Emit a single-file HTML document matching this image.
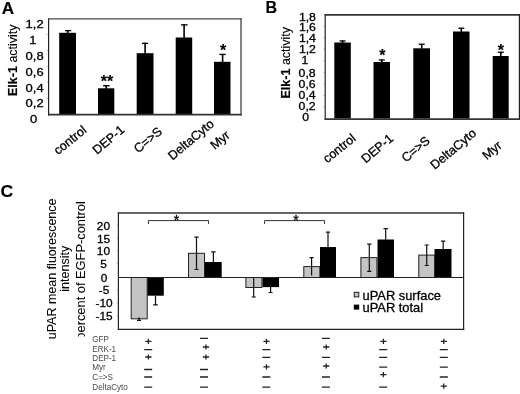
<!DOCTYPE html>
<html><head><meta charset="utf-8">
<style>
html,body{margin:0;padding:0;background:#fff;}
body{width:520px;height:394px;overflow:hidden;position:relative;}
svg{position:absolute;left:0;top:0;display:block;will-change:transform;}
text{font-family:"Liberation Sans",sans-serif;fill:#000;stroke:#000;stroke-width:0.3px;}
.b{stroke-width:0.15px;}
.b{font-weight:bold;}
</style></head><body>
<svg width="520" height="394" viewBox="0 0 520 394">
<defs>
<clipPath id="clp"><rect x="0" y="180" width="120" height="156.4"/></clipPath>
</defs>
<!-- ================= PANEL A ================= -->
<text id="t1" class="b" transform="translate(1.7,13.8) scale(1.07,1)" font-size="16">A</text>
<!-- y title -->
<g transform="translate(17,60.2) rotate(-90)">
<text id="t2" text-anchor="middle" font-size="12.5" style="stroke-width:0.1px"><tspan class="b">Elk-1</tspan> activity</text>
</g>
<!-- y labels -->
<g font-size="11" text-anchor="middle">
<text id="t3" transform="translate(34.6,28.2) scale(1.18,1)">1,2</text>
<text id="t4" transform="translate(32.9,43.7) scale(1.18,1)">1</text>
<text id="t5" transform="translate(34.6,59.8) scale(1.18,1)">0,8</text>
<text id="t6" transform="translate(34.6,76.3) scale(1.18,1)">0,6</text>
<text id="t7" transform="translate(34.6,91.8) scale(1.18,1)">0,4</text>
<text id="t8" transform="translate(34.6,107.2) scale(1.18,1)">0,2</text>
<text id="t9" transform="translate(33.6,123.3) scale(1.18,1)">0</text>
</g>
<!-- ticks -->
<g stroke="#bbb" stroke-width="0.8">
<line x1="46.3" y1="34.6" x2="48.5" y2="34.6"/>
<line x1="46.3" y1="50.6" x2="48.5" y2="50.6"/>
<line x1="46.3" y1="66.6" x2="48.5" y2="66.6"/>
<line x1="46.3" y1="82.6" x2="48.5" y2="82.6"/>
<line x1="46.3" y1="98.6" x2="48.5" y2="98.6"/>
</g>
<!-- bars -->
<g fill="#000">
<rect x="59.2" y="32.8" width="16.8" height="81.8"/>
<rect x="98" y="88.3" width="16.3" height="26.3"/>
<rect x="136.7" y="53.2" width="16.8" height="61.4"/>
<rect x="175.7" y="37.5" width="16.5" height="77.1"/>
<rect x="214" y="61.8" width="16.5" height="52.8"/>
<!-- error bars -->
<rect x="66.9" y="30" width="1.6" height="3"/><rect x="65" y="30" width="6.2" height="1.3"/>
<rect x="105.4" y="85" width="1.6" height="4"/><rect x="103.1" y="85" width="6.4" height="1.4"/>
<rect x="144.3" y="42.7" width="1.6" height="11"/><rect x="142" y="42.7" width="6.2" height="1.3"/>
<rect x="183.3" y="24.2" width="1.6" height="14"/><rect x="181" y="24.2" width="6.6" height="1.3"/>
<rect x="221.8" y="53.8" width="1.6" height="8.5"/><rect x="219.4" y="53.8" width="6.3" height="1.3"/>
</g>
<!-- frame -->
<g stroke="#222" fill="none">
<line x1="48.6" y1="18.3" x2="48.6" y2="115.5" stroke-width="1.2"/>
<line x1="48" y1="18.9" x2="241.6" y2="18.9" stroke-width="1.3" stroke="#444"/>
<line x1="241" y1="18.3" x2="241" y2="115.5" stroke-width="1.3" stroke="#444"/>
<line x1="48" y1="114.7" x2="241.6" y2="114.7" stroke-width="1.8" stroke="#333"/>
</g>
<!-- stars -->
<text id="t10" class="b" x="106.9" y="86.6" font-size="16" text-anchor="middle">**</text>
<text id="t11" class="b" x="223.2" y="56.2" font-size="16" text-anchor="middle">*</text>
<!-- x labels -->
<g font-size="12.6" text-anchor="middle">
<text id="t12" transform="translate(70,140.2) rotate(-39)" y="4.2">control</text>
<text id="t13" transform="translate(108.5,139.8) rotate(-40)" y="4.2">DEP-1</text>
<text id="t14" transform="translate(148,140) rotate(-40)" y="4.2">C=&gt;S</text>
<text id="t15" transform="translate(191,139.7) rotate(-40)" y="4.2">DeltaCyto</text>
<text id="t16" transform="translate(220,140) rotate(-40)" y="4.2">Myr</text>
</g>

<!-- ================= PANEL B ================= -->
<text id="t17" class="b" x="265.5" y="13.4" font-size="16">B</text>
<g transform="translate(290,62.7) rotate(-90)">
<text id="t18" text-anchor="middle" font-size="12.5" style="stroke-width:0.1px"><tspan class="b">Elk-1</tspan> activity</text>
</g>
<g font-size="10.5" text-anchor="middle">
<text id="t19" transform="translate(307.4,20.6) scale(1.17,1)">1,8</text>
<text id="t20" transform="translate(307.4,31) scale(1.17,1)">1,6</text>
<text id="t21" transform="translate(307.4,41.9) scale(1.17,1)">1,4</text>
<text id="t22" transform="translate(307.4,53) scale(1.17,1)">1,2</text>
<text id="t23" transform="translate(304.8,64) scale(1.17,1)">1</text>
<text id="t24" transform="translate(307.1,77.3) scale(1.17,1)">0,8</text>
<text id="t25" transform="translate(307.1,88) scale(1.17,1)">0,6</text>
<text id="t26" transform="translate(307.1,98.8) scale(1.17,1)">0,4</text>
<text id="t27" transform="translate(307.1,109.5) scale(1.17,1)">0,2</text>
<text id="t28" transform="translate(305.6,121) scale(1.17,1)">0</text>
</g>
<g stroke="#bbb" stroke-width="0.8">
<line x1="323" y1="26.1" x2="325" y2="26.1"/>
<line x1="323" y1="37.6" x2="325" y2="37.6"/>
<line x1="323" y1="49.2" x2="325" y2="49.2"/>
<line x1="323" y1="60.7" x2="325" y2="60.7"/>
<line x1="323" y1="72.3" x2="325" y2="72.3"/>
<line x1="323" y1="83.8" x2="325" y2="83.8"/>
<line x1="323" y1="95.4" x2="325" y2="95.4"/>
<line x1="323" y1="106.9" x2="325" y2="106.9"/>
</g>
<g fill="#000">
<rect x="334.3" y="42.5" width="16.5" height="76"/>
<rect x="373.5" y="62" width="16.5" height="56.5"/>
<rect x="413.3" y="48.3" width="16.7" height="70.2"/>
<rect x="453" y="31.5" width="16.5" height="87"/>
<rect x="492.7" y="56" width="16" height="62.5"/>
<rect x="341.8" y="40.5" width="1.6" height="2.5"/><rect x="339.6" y="40.3" width="6" height="1.3"/>
<rect x="381" y="59.5" width="1.6" height="3"/><rect x="378.8" y="59.3" width="6" height="1.3"/>
<rect x="420.9" y="43.8" width="1.6" height="5"/><rect x="418.7" y="43.6" width="6" height="1.3"/>
<rect x="460.5" y="27.8" width="1.6" height="4"/><rect x="458.3" y="27.6" width="6" height="1.3"/>
<rect x="500" y="51.8" width="1.6" height="4.5"/><rect x="497.8" y="51.6" width="6" height="1.3"/>
</g>
<g stroke="#222" fill="none">
<line x1="325.2" y1="14" x2="325.2" y2="119.5" stroke-width="1.2"/>
<line x1="324.6" y1="14.85" x2="520" y2="14.85" stroke-width="1.8" stroke="#333"/>
<line x1="519.5" y1="14" x2="519.5" y2="120" stroke-width="1.4"/>
<line x1="324.6" y1="119.1" x2="520" y2="119.1" stroke-width="1.6" stroke="#333"/>
</g>
<text id="t29" class="b" x="382.3" y="61.3" font-size="16" text-anchor="middle">*</text>
<text id="t30" class="b" x="500.8" y="55.8" font-size="16" text-anchor="middle">*</text>
<g font-size="12.6" text-anchor="middle">
<text id="t31" transform="translate(339.3,148.4) rotate(-39)" y="4.2">control</text>
<text id="t32" transform="translate(377.2,148.5) rotate(-40)" y="4.2">DEP-1</text>
<text id="t33" transform="translate(415.7,149.2) rotate(-40)" y="4.2">C=&gt;S</text>
<text id="t34" transform="translate(453.2,149.1) rotate(-40)" y="4.2">DeltaCyto</text>
<text id="t35" transform="translate(492,150.4) rotate(-40)" y="4.2">Myr</text>
</g>

<!-- ================= PANEL C ================= -->
<text id="t36" class="b" transform="translate(0.6,197) scale(1.1,1)" font-size="16">C</text>
<g font-size="12.5" text-anchor="middle" style="stroke-width:0.05px">
<text id="t37" style="stroke-width:0.05px" transform="translate(56.2,268.9) rotate(-90)">uPAR mean fluorescence</text>
<text id="t38" style="stroke-width:0.05px" transform="translate(69.2,268.8) rotate(-90)">intensity</text>
<g clip-path="url(#clp)"><text id="t39" style="stroke-width:0.05px" font-size="12.85" transform="translate(85.2,270.4) rotate(-90)">percent of EGFP-control</text></g>
</g>
<g font-size="11" text-anchor="middle">
<text id="t40" transform="translate(103.4,229.8) scale(1.08,1)">20</text>
<text id="t41" transform="translate(103.6,242.6) scale(1.08,1)">15</text>
<text id="t42" transform="translate(103.4,255.4) scale(1.08,1)">10</text>
<text id="t43" transform="translate(103.6,268.3) scale(1.08,1)">5</text>
<text id="t44" transform="translate(104,281.8) scale(1.08,1)">0</text>
<text id="t45" transform="translate(104,294.3) scale(1.08,1)">-5</text>
<text id="t46" transform="translate(104,307.2) scale(1.08,1)">-10</text>
<text id="t47" transform="translate(104,319.8) scale(1.08,1)">-15</text>
</g>
<g stroke="#bbb" stroke-width="0.8">
<line x1="116.5" y1="225.3" x2="118.5" y2="225.3"/>
<line x1="116.5" y1="238.1" x2="118.5" y2="238.1"/>
<line x1="116.5" y1="250.8" x2="118.5" y2="250.8"/>
<line x1="116.5" y1="263.4" x2="118.5" y2="263.4"/>
<line x1="116.5" y1="290.2" x2="118.5" y2="290.2"/>
<line x1="116.5" y1="303" x2="118.5" y2="303"/>
<line x1="116.5" y1="315.7" x2="118.5" y2="315.7"/>
</g>
<!-- bars: gray with outline -->
<g fill="#c4c4c4" stroke="#222" stroke-width="1">
<rect x="131.2" y="277.5" width="16" height="41.3"/>
<rect x="188.5" y="253.3" width="16" height="24.2"/>
<rect x="245.9" y="277.5" width="16" height="10"/>
<rect x="303.8" y="266.6" width="16" height="10.9"/>
<rect x="360.9" y="257.6" width="16" height="19.9"/>
<rect x="418.8" y="255.1" width="16" height="22.4"/>
</g>
<g fill="#000">
<rect x="147.5" y="277.5" width="16.3" height="18.2"/>
<rect x="205" y="262" width="16.7" height="15.5"/>
<rect x="262.5" y="277.5" width="16.5" height="9.6"/>
<rect x="320" y="247" width="16" height="30.5"/>
<rect x="377.5" y="239.5" width="16.5" height="38"/>
<rect x="434.5" y="249" width="17" height="28.5"/>
</g>
<!-- error bars C -->
<g stroke="#111" stroke-width="1.2" fill="none">
<path d="M139 317.3V320.3M137 320.3H141"/>
<path d="M155.5 295.7V304.8M153.2 304.8H157.8"/>
<path d="M196.5 237.2V269.5M194.4 237.2H198.6M194.4 269.5H198.6"/>
<path d="M213.4 251.9V262.3M211.2 251.9H215.6"/>
<path d="M253.7 278V297M251.6 297H255.8"/>
<path d="M270.6 287V292.5M268.6 292.5H272.6"/>
<path d="M311.6 257.7V275.5M309.5 257.7H313.7"/>
<path d="M328 232.2V247.3M325.9 232.2H330.1"/>
<path d="M369.3 244.2V271.4M367.2 244.2H371.4M367.2 271.4H371.4"/>
<path d="M385.7 228.6V239.8M383.5 228.6H387.9"/>
<path d="M426.7 245V265.5M424.6 245H428.8M424.6 265.5H428.8"/>
<path d="M443.2 241.1V249.3M441.1 241.1H445.3"/>
</g>
<!-- frame C -->
<g stroke="#222" fill="none">
<line x1="118.4" y1="212.3" x2="118.4" y2="329.7" stroke-width="1.2"/>
<line x1="117.8" y1="213" x2="464.2" y2="213" stroke-width="1.4" stroke="#333"/>
<line x1="463.6" y1="212.3" x2="463.6" y2="329.9" stroke-width="1.2"/>
<line x1="117.8" y1="329.3" x2="464.2" y2="329.3" stroke-width="1.3" stroke="#222"/>
<line x1="118" y1="277.5" x2="464" y2="277.5" stroke-width="1.1"/>
</g>
<!-- brackets -->
<g stroke="#333" stroke-width="1" fill="none">
<path d="M148.4 224V220.6H208.6V224"/>
<path d="M264.6 224V220.6H324.6V224"/>
</g>
<text id="t48" x="176.6" y="225.3" font-size="14" text-anchor="middle">*</text>
<text id="t49" x="296" y="225.3" font-size="14" text-anchor="middle">*</text>
<!-- legend -->
<rect x="354.2" y="292.3" width="4.6" height="4.6" fill="#c4c4c4" stroke="#222" stroke-width="1"/>
<rect x="353.8" y="304.6" width="5.4" height="5" fill="#000"/>
<g font-size="12">
<text id="t50" transform="translate(362.5,299.5) scale(1.075,1)">uPAR surface</text>
<text id="t51" transform="translate(362.5,311.7) scale(1.075,1)">uPAR total</text>
</g>
<!-- table -->
<g font-size="9" fill="#444">
<text id="t52" transform="translate(92.3,342.2) scale(0.9,1)" style="fill:#4a4a4a;stroke:none">GFP</text>
<text id="t53" transform="translate(92.3,351.6) scale(0.9,1)" style="fill:#4a4a4a;stroke:none">ERK-1</text>
<text id="t54" transform="translate(92.3,360.8) scale(0.9,1)" style="fill:#4a4a4a;stroke:none">DEP-1</text>
<text id="t55" transform="translate(92.3,369.6) scale(0.9,1)" style="fill:#4a4a4a;stroke:none">Myr</text>
<text id="t56" transform="translate(92.3,379.6) scale(0.9,1)" style="fill:#4a4a4a;stroke:none">C=&gt;S</text>
<text id="t57" transform="translate(92.3,390.1) scale(0.9,1)" style="fill:#4a4a4a;stroke:none">DeltaCyto</text>
</g>
<g id="tbl"><path stroke="#222" stroke-width="1.3" fill="none" d="M145.3 341.3H151.5M148.4 338.7V343.9M144.2 349.6H152.2M145.3 357.0H151.5M148.4 354.4V359.6M144.2 369.5H152.2M144.2 377.0H152.2M144.2 387.1H152.2M200.0 338.3H208.0M202.9 347.0H209.1M206.0 344.4V349.6M202.9 357.0H209.1M206.0 354.4V359.6M200.0 369.5H208.0M200.0 377.0H208.0M200.0 387.1H208.0M263.4 341.3H269.6M266.5 338.7V343.9M262.3 349.6H270.3M262.3 357.3H270.3M263.4 366.9H269.6M266.5 364.3V369.5M262.3 377.0H270.3M262.3 387.1H270.3M321.9 338.3H329.9M323.1 347.0H329.3M326.2 344.4V349.6M321.9 357.3H329.9M323.1 366.0H329.3M326.2 363.4V368.6M321.9 377.0H329.9M321.9 387.1H329.9M380.3 341.3H386.5M383.4 338.7V343.9M379.2 349.6H387.2M379.2 357.3H387.2M379.2 367.2H387.2M380.3 374.7H386.5M383.4 372.1V377.3M379.2 387.1H387.2M440.7 341.4H446.9M443.8 338.8V344.0M439.8 349.6H447.8M439.8 357.3H447.8M439.8 367.2H447.8M439.8 377.0H447.8M440.7 386.1H446.9M443.8 383.5V388.7"/></g>
</svg>
</body></html>
